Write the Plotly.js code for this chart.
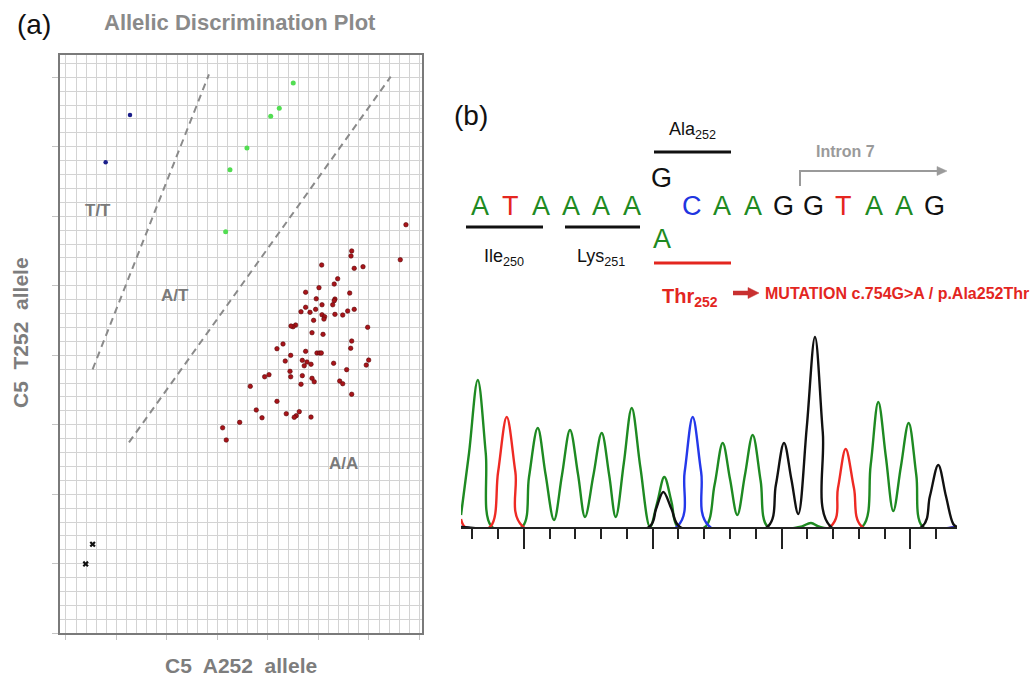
<!DOCTYPE html>
<html><head><meta charset="utf-8">
<script src="https://cdn.plot.ly/plotly-3.0.1.min.js"></script>
<style>html,body{margin:0;padding:0;background:#fff}#chart{width:1035px;height:677px}</style>
</head><body><div id="chart"></div>
<script>
// ---------- (a) Allelic discrimination data ----------
const ttX = [0.634, 0.393];
const ttY = [3.728, 3.388];
const atX = [2.250, 2.112, 2.027, 1.792, 1.624, 1.581];
const atY = [3.958, 3.776, 3.719, 3.491, 3.335, 2.888];
const aaX = [2.829,2.822,2.532,2.854,2.941,3.310,2.690,2.656,2.505,2.373,2.809,2.478,2.663,2.656,2.535,2.641,2.373,2.472,2.327,2.416,
             2.854,2.789,2.663,2.740,2.535,2.561,2.554,2.452,2.274,2.248,2.228,2.987,2.436,2.545,2.829,2.819,2.149,2.089,2.373,2.485,
             2.512,2.528,2.225,2.171,2.340,2.386,2.359,2.426,2.650,2.997,2.973,2.779,2.218,2.225,2.010,1.967,2.340,2.436,2.458,2.327,
             2.710,2.740,2.829,1.825,2.089,1.884,1.941,2.181,2.310,2.280,2.260,2.426,1.720,1.551,1.587,3.366];
const aaY = [2.750,2.714,2.649,2.625,2.637,2.687,2.550,2.512,2.486,2.453,2.447,2.406,2.404,2.392,2.363,2.363,2.345,2.330,2.313,2.309,
             2.330,2.318,2.294,2.289,2.291,2.277,2.260,2.251,2.217,2.205,2.210,2.201,2.162,2.150,2.102,2.050,2.081,2.047,2.028,2.016,
             2.016,2.016,1.999,1.958,1.963,1.951,1.924,1.935,1.942,1.965,1.929,1.896,1.884,1.845,1.860,1.845,1.853,1.834,1.809,1.791,
             1.814,1.795,1.719,1.776,1.668,1.606,1.550,1.579,1.594,1.565,1.553,1.555,1.517,1.478,1.390,2.939];
const ntcX = [0.264, 0.195];
const ntcY = [0.640, 0.498];
const bound1X = [0.264, 1.416], bound1Y = [1.899, 4.021];
const bound2X = [0.624, 3.215], bound2Y = [1.373, 4.004];
const clusterLabels = ['T/T', 'A/T', 'A/A'];
const clusterLabelX = [0.32, 1.08, 2.75];
const clusterLabelY = [3.04, 2.43, 1.22];

// ---------- (b) Sequence + chromatogram data ----------
const seqBases = ['A','T','A','A','A','A','','C','A','A','G','G','T','A','A','G'];
const mutIndex = 6, refBase = 'G', altBase = 'A';
const greenScan = [5.61,8.72,12.10,15.20,17.64,29.29,32.0,35.38,38.4,41.70,44.8,47.91,51.0,53.73,57.0,60.21,63.1,65.65,68.8,71.86,75.2,78.96,
                   81.8,84.51,87.3,89.82,100.30,104.0,107.17,110.0,112.83,115.8,118.81,121.9,124.75,137,141.43,145,161.22,164.6,167.55,170.5,
                   173.37,176.3,179.35,182.3,184.89,198.1];
const greenSig  = [12,74,147,74,0,0,50,99,53,7,52,97,53,10,52,94,52,10,64,119,60,0,
                   25,50,25,0,0,42,84,48,12,52,92,46,0,0,4,0,0,62,125,70,
                   16,60,104,52,0,0];
const redScan = [5.61,7.17,16.87,20.0,23.35,26.7,29.79,148.81,151.9,154.90,158.1,161.34,198.1];
const redSig  = [8,0,0,55,110,55,0,0,39,78,39,0,0];
const blueScan = [5.61,89.32,92.4,95.53,98.8,102.24,198.1];
const blueSig  = [0,0,55,110,55,0,0];
const blackScan = [5.61,78.57,81.3,84.12,87.3,90.60,124.47,127.8,130.96,133.8,136.50,139.8,142.98,146.0,149.19,184.39,187.6,190.83,193.8,196.65,198.1];
const blackSig  = [0,0,18,35,18,0,0,42,84,48,13,100,190,95,0,0,31,62,31,3,0];

const W = 1035, H = 677;
const PX = v => v / W, PY = v => 1 - v / H;
const FONT = 'Liberation Sans, Arial, sans-serif';
const baseColor = {A:'#1e8a22', T:'#e5261f', C:'#2035e0', G:'#111111'};

const traces = [
  {x: bound1X, y: bound1Y, mode:'lines', line:{color:'#8a8a8a', width:2, dash:'7px,5px'}, xaxis:'x', yaxis:'y', hoverinfo:'skip'},
  {x: bound2X, y: bound2Y, mode:'lines', line:{color:'#8a8a8a', width:2, dash:'7px,5px'}, xaxis:'x', yaxis:'y', hoverinfo:'skip'},
  {x: ttX, y: ttY, mode:'markers', marker:{color:'#1b1f8a', size:4.5}, xaxis:'x', yaxis:'y', name:'T/T'},
  {x: atX, y: atY, mode:'markers', marker:{color:'#52dd52', size:5}, xaxis:'x', yaxis:'y', name:'A/T'},
  {x: aaX, y: aaY, mode:'markers', marker:{color:'#a8141a', size:4.5, line:{color:'#5a0808', width:0.6}}, xaxis:'x', yaxis:'y', name:'A/A'},
  {x: ntcX, y: ntcY, mode:'markers', marker:{color:'#111', size:5.5, symbol:'x'}, xaxis:'x', yaxis:'y', name:'NTC'},
  {x: greenScan, y: greenSig, mode:'lines', line:{color:'#1e8a22', width:2.4, shape:'spline', smoothing:1}, xaxis:'x2', yaxis:'y2'},
  {x: redScan, y: redSig, mode:'lines', line:{color:'#ee2a24', width:2.4, shape:'spline', smoothing:1}, xaxis:'x2', yaxis:'y2'},
  {x: blueScan, y: blueSig, mode:'lines', line:{color:'#2438ea', width:2.4, shape:'spline', smoothing:1}, xaxis:'x2', yaxis:'y2'},
  {x: blackScan, y: blackSig, mode:'lines', line:{color:'#111111', width:2.4, shape:'spline', smoothing:1}, xaxis:'x2', yaxis:'y2'}
];

const ann = [];
function txt(text, x, y, size, color, opts) {
  ann.push(Object.assign({text, x:PX(x), y:PY(y), xref:'paper', yref:'paper', showarrow:false,
    xanchor:'center', yanchor:'middle', font:{family:FONT, size, color}}, opts || {}));
}
txt('(a)', 34, 24, 28, '#111');
txt('<b>Allelic Discrimination Plot</b>', 240, 22, 22, '#8a8a8a');
txt('<b>C5&nbsp; A252&nbsp; allele</b>', 241, 665, 21, '#7d7d7d');
txt('<b>C5&nbsp; T252&nbsp; allele</b>', 20, 333, 21, '#7d7d7d', {textangle:-90});
clusterLabels.forEach((t, i) => ann.push({text:'<b>'+t+'</b>', x:clusterLabelX[i], y:clusterLabelY[i], xref:'x', yref:'y',
  showarrow:false, font:{family:FONT, size:17, color:'#7a7a7a'}}));

txt('(b)', 471, 115, 28, '#111');
const seqX0 = 480, seqDx = 30.3;
seqBases.forEach((b, i) => { if (b) txt(b, seqX0 + seqDx*i, 206, 27, baseColor[b]); });
txt(refBase, seqX0 + seqDx*mutIndex, 178, 27, baseColor[refBase]);
txt(altBase, seqX0 + seqDx*mutIndex, 239, 27, baseColor[altBase]);
txt('Ala<sub>252</sub>', 692, 130, 18, '#111');
txt('Ile<sub>250</sub>', 504, 257, 18, '#111');
txt('Lys<sub>251</sub>', 601, 257, 18, '#111');
txt('<b>Thr<sub>252</sub></b>', 690, 298, 20, '#e3261f');
txt('<b>MUTATION c.754G&gt;A / p.Ala252Thr</b>', 763, 293, 16, '#e3261f', {xanchor:'left'});
txt('<b>Intron 7</b>', 845, 152, 16, '#9a9a9a');

const shapes = [];
function hline(x0, x1, y, color, w) {
  shapes.push({type:'line', xref:'paper', yref:'paper', x0:PX(x0), x1:PX(x1), y0:PY(y), y1:PY(y), line:{color, width:w}});
}
function tri(xTip, y, len, half, color) {
  const p = `M ${PX(xTip)} ${PY(y)} L ${PX(xTip-len)} ${PY(y-half)} L ${PX(xTip-len)} ${PY(y+half)} Z`;
  shapes.push({type:'path', xref:'paper', yref:'paper', path:p, fillcolor:color, line:{color, width:0.5}});
}
hline(466, 543, 227, '#111', 3);
hline(565, 640, 227, '#111', 3);
hline(654, 731, 152, '#111', 3);
hline(654, 731, 263, '#e3261f', 3);
// Intron 7 bracket arrow
shapes.push({type:'line', xref:'paper', yref:'paper', x0:PX(800), x1:PX(800), y0:PY(186), y1:PY(171), line:{color:'#9a9a9a', width:2}});
hline(799, 938, 171, '#9a9a9a', 2);
tri(947, 171, 10, 4.5, '#9a9a9a');
// red mutation arrow
hline(733, 749, 293, '#c83030', 4.5);
tri(759, 293, 11, 5.5, '#c83030');

const gridC = '#d3d3d3';
const layout = {
  width: W, height: H, margin:{l:0, r:0, t:0, b:0}, showlegend:false,
  paper_bgcolor:'#fff', plot_bgcolor:'#fff',
  xaxis:{domain:[PX(60), PX(422)], range:[-0.059, 3.525], anchor:'y', showgrid:true, gridcolor:gridC, gridwidth:1,
    tick0:0, dtick:0.5, ticks:'outside', ticklen:5, tickcolor:'#c4c4c4', showticklabels:false, zeroline:false,
    showline:true, mirror:true, linecolor:'#7a7a7a', linewidth:2,
    minor:{tick0:0, dtick:0.1, showgrid:true, gridcolor:gridC, gridwidth:1}},
  yaxis:{domain:[PY(633.2), PY(55)], range:[0, 4.16], anchor:'x', showgrid:true, gridcolor:gridC, gridwidth:1,
    tick0:0, dtick:0.5, ticks:'outside', ticklen:6, tickcolor:'#c4c4c4', showticklabels:false, zeroline:false,
    showline:true, mirror:true, linecolor:'#7a7a7a', linewidth:2,
    minor:{tick0:0, dtick:0.1, showgrid:true, gridcolor:gridC, gridwidth:1}},
  xaxis2:{domain:[PX(461), PX(957)], range:[5.6, 198.1], anchor:'y2', showgrid:false, zeroline:false,
    showline:true, linecolor:'#222', linewidth:1.5, showticklabels:false,
    ticks:'outside', tick0:30, dtick:50, ticklen:20, tickwidth:2, tickcolor:'#222',
    minor:{tick0:0, dtick:10, ticks:'outside', ticklen:10, tickwidth:2, tickcolor:'#222', showgrid:false}},
  yaxis2:{domain:[PY(527), PY(330)], range:[0, 197], anchor:'x2', visible:false},
  annotations: ann, shapes: shapes
};
Plotly.newPlot('chart', traces, layout, {displayModeBar:false, staticPlot:true});
</script></body></html>
